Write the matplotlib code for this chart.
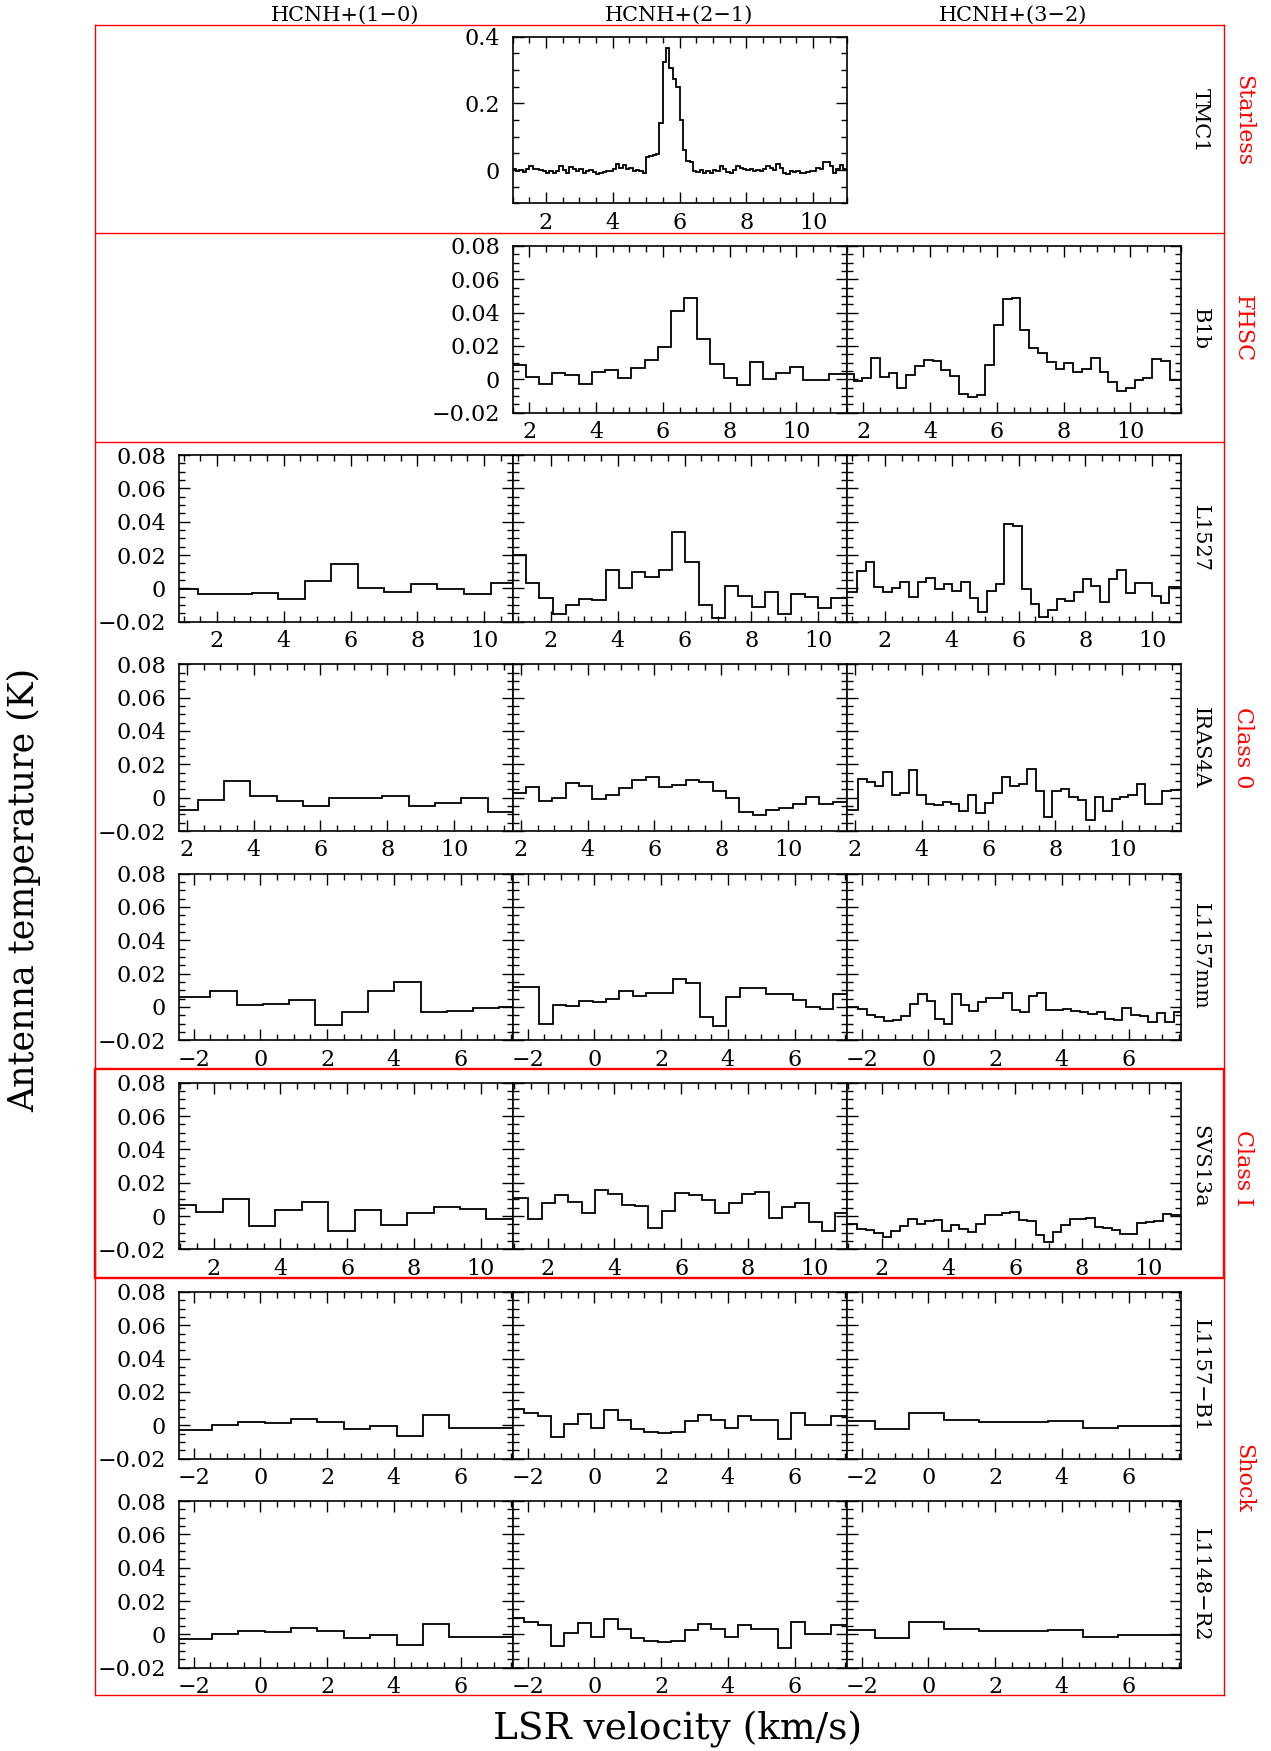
import matplotlib
matplotlib.use('Agg')
import matplotlib.pyplot as plt
from matplotlib.ticker import MultipleLocator, FuncFormatter
import numpy as np

plt.rcParams['font.family'] = ['DejaVu Serif']

# ---- data : (velocity of first channel, channel width, antenna temperatures) ----
line_names = ['HCNH+(1\u22120)', 'HCNH+(2\u22121)', 'HCNH+(3\u22122)']
sources = ['TMC1', 'B1b', 'L1527', 'IRAS4A', 'L1157mm', 'SVS13a',
           'L1157\u2212B1', 'L1148\u2212R2']
groups = ['Starless', 'FHSC', 'Class 0', 'Class I', 'Shock']
vel_ranges = [(1.0, 11.0), (1.5, 11.5), (0.85, 10.85), (1.75, 11.75),
              (-2.45, 7.55), (0.95, 10.95), (-2.45, 7.55), (-2.45, 7.55)]

tmc1_21 = (1.05, 0.1, [
    0.004, -0.003, 0.0, -0.006, 0.004, 0.012, 0.004, 0.002, 0.0, -0.002,
    -0.008, -0.002, -0.008, -0.002, 0.012, 0.0, -0.008, 0.009, 0.002, -0.003,
    0.002, -0.008, -0.002, 0.0, -0.006, -0.013, -0.008, -0.006, -0.003, -0.002,
    0.002, 0.017, 0.007, 0.015, 0.004, 0.007, -0.003, 0.0, -0.004, -0.008,
    0.040, 0.042, 0.044, 0.047, 0.141, 0.325, 0.367, 0.305, 0.274, 0.249,
    0.151, 0.059, 0.027, 0.025, -0.003,
    -0.005, 0.0, -0.008, -0.002, -0.008, 0.0, -0.003, 0.012, 0.002, -0.006,
    -0.008, 0.0, 0.012, 0.007, 0.004, -0.001, 0.002, -0.002, 0.0, -0.003,
    0.002, 0.012, 0.007, 0.0, 0.017, 0.007, -0.008, -0.013, -0.003, -0.006,
    -0.003, -0.008, -0.010, -0.006, -0.003, -0.003, 0.007, 0.002, 0.025, 0.024,
    0.012, -0.010, 0.002, 0.014, 0.004])

b1b_21 = (1.70, 0.395, [
    0.0088, 0.0016, -0.003, 0.0035, 0.0024, -0.003, 0.0045, 0.0053, 0.0006,
    0.0065, 0.0116, 0.0196, 0.0412, 0.0488, 0.024, 0.009, 0.0006, -0.0035,
    0.0106, 0.0004, 0.0037, 0.0076, -0.0006, -0.0002, 0.0033])
b1b_32 = (1.58, 0.263, [
    0.0033, -0.001, 0.0006, 0.0127, 0.0016, 0.0035, -0.0055, 0.0024, 0.0078,
    0.0118, 0.011, 0.0055, 0.0022, -0.0088, -0.0104, -0.0092, 0.0086, 0.0324,
    0.0484, 0.049, 0.0298, 0.019, 0.0155, 0.0102, 0.0061, 0.0098, 0.0041,
    0.0059, 0.0125, 0.0043, -0.0016, -0.0071, -0.0055, -0.0006, 0.0006,
    0.0122, 0.0112, -0.0004])

l1527_10 = (1.05, 0.795, [
    -0.0004, -0.0034, -0.0032, -0.0028, -0.0066, 0.0046, 0.0144, 0.0004,
    -0.002, 0.0024, -0.0004, -0.0032, 0.0034])
l1527_21 = (1.06, 0.397, [
    0.02, 0.0034, -0.006, -0.0156, -0.01, -0.0064, -0.0072, 0.0108, 0.0,
    0.0096, 0.0066, 0.0108, 0.034, 0.0156, -0.01, -0.018, 0.0016, -0.0046,
    -0.0114, -0.0022, -0.0156, -0.0034, -0.0054, -0.0116, -0.0056])
l1527_32 = (1.03, 0.26, [
    -0.002, 0.0104, 0.0156, 0.001, -0.0024, 0.0004, 0.0036, -0.0054, 0.0036,
    0.006, -0.0006, 0.0026, -0.0014, 0.004, -0.006, -0.014, -0.0016, 0.0028,
    0.0384, 0.0374, -0.0004, -0.0094, -0.0174, -0.0128, -0.0062, -0.0074,
    -0.0022, 0.0054, 0.0012, -0.008, 0.0054, 0.0108, -0.0026, 0.003, 0.003,
    -0.0044, -0.009, 0.0008])

iras4a_10 = (1.925, 0.79, [
    -0.0076, -0.0016, 0.01, 0.0008, -0.002, -0.005, -0.0002, 0.0, 0.0008,
    -0.005, -0.0034, 0.0, -0.0084])
iras4a_21 = (1.94, 0.4, [
    0.0028, 0.0062, -0.0018, 0.0, 0.009, 0.007, -0.0006, 0.0016, 0.0058,
    0.0104, 0.0126, 0.0062, 0.0078, 0.0108, 0.0092, 0.0042, 0.0, -0.0086,
    -0.0106, -0.0072, -0.006, -0.004, 0.0006, -0.004, -0.0028])
iras4a_32 = (1.97, 0.253, [
    -0.0076, 0.0114, 0.0094, 0.007, 0.0156, 0.0014, 0.0028, 0.0164, 0.0014,
    -0.0036, -0.0042, -0.0026, -0.004, -0.0082, 0.0014, -0.0092, -0.003,
    0.0028, 0.0122, 0.0068, 0.0084, 0.0174, 0.0042, -0.0114, 0.004, 0.0054,
    0.0004, -0.0016, -0.0136, 0.0006, -0.0082, -0.0006, 0.0004, 0.0014, 0.008,
    -0.0036, -0.004, 0.0038, 0.0044])

l1157mm_10 = (-2.68, 0.787, [
    0.0058, 0.0058, 0.0098, 0.0014, 0.0016, 0.0044, -0.0106, -0.0032, 0.0098,
    0.0148, -0.003, -0.0026, -0.0004, 0.0002])
l1157mm_21 = (-2.25, 0.4, [
    0.0118, 0.0118, -0.01, 0.001, 0.0004, 0.0034, 0.003, 0.005, 0.0098,
    0.0064, 0.0086, 0.0086, 0.017, 0.0144, -0.006, -0.0114, 0.006, 0.0114,
    0.0116, 0.008, 0.0076, 0.004, 0.0, -0.001, 0.008])
l1157mm_32 = (-2.22, 0.255, [
    0.0, -0.001, -0.005, -0.006, -0.0082, -0.008, -0.0054, 0.0018, 0.0076,
    0.0034, -0.0074, -0.0104, 0.008, 0.0014, -0.0024, 0.003, 0.0054, 0.0056,
    0.0084, -0.0018, -0.003, 0.0066, 0.0084, -0.002, -0.002, -0.001, -0.0024,
    -0.003, -0.004, -0.003, -0.007, -0.0076, -0.0004, -0.005, -0.0054,
    -0.009, -0.0034, -0.0092, -0.003])

svs13a_10 = (1.085, 0.79, [
    0.0064, 0.0024, 0.0104, -0.006, 0.0036, 0.0084, -0.0092, 0.0036, -0.0052,
    0.002, 0.0054, 0.0044, -0.002])
svs13a_21 = (1.22, 0.4, [
    0.0108, -0.0016, 0.008, 0.0128, 0.0084, 0.002, 0.0158, 0.013, 0.0064,
    0.0058, -0.007, 0.003, 0.014, 0.0124, 0.0094, 0.002, 0.0078, 0.0134,
    0.0144, -0.001, 0.0052, 0.008, -0.0036, -0.0092, 0.002])
svs13a_32 = (1.15, 0.254, [
    -0.0046, -0.0076, -0.0086, -0.01, -0.0124, -0.0092, -0.0058, -0.002,
    -0.0046, -0.003, -0.0026, -0.0092, -0.0056, -0.0076, -0.0096, -0.005,
    0.0004, 0.0004, 0.0016, 0.0022, -0.0022, -0.003, -0.0116, -0.0156,
    -0.0096, -0.0052, -0.002, -0.0016, -0.001, -0.0066, -0.007, -0.0086,
    -0.0106, -0.011, -0.004, -0.0036, -0.0032, 0.0014, 0.0004])

l1157b1_10 = (-1.845, 0.79, [
    -0.003, 0.0004, 0.002, 0.0016, 0.004, 0.0018, -0.002, -0.0004, -0.0064,
    0.006, -0.0014, -0.0014, -0.0014])
l1157b1_21 = (-2.3, 0.4, [
    0.01, 0.0076, 0.0056, -0.007, 0.001, 0.007, -0.0014, 0.009, 0.003, -0.002,
    -0.004, -0.0046, -0.004, 0.0026, 0.0064, 0.0034, -0.0016, 0.0058, 0.0034,
    0.0034, -0.008, 0.0074, 0.0, 0.0, 0.0054])
l1157b1_32 = (-2.13, 1.04, [
    0.0024, -0.002, 0.0074, 0.0034, 0.002, 0.002, 0.0024, -0.0016, -0.0006,
    -0.0004])

l1148r2_10 = l1157b1_10
l1148r2_21 = l1157b1_21
l1148r2_32 = l1157b1_32

spectra = [
    [None, tmc1_21, None],
    [None, b1b_21, b1b_32],
    [l1527_10, l1527_21, l1527_32],
    [iras4a_10, iras4a_21, iras4a_32],
    [l1157mm_10, l1157mm_21, l1157mm_32],
    [svs13a_10, svs13a_21, svs13a_32],
    [l1157b1_10, l1157b1_21, l1157b1_32],
    [l1148r2_10, l1148r2_21, l1148r2_32],
]

# ---- layout (pixels of the 1271 x 1751 image) ----
W, H = 1271, 1751
col_left = [178.5, 512.5, 846.5]
col_w = 334
row_top0, row_pitch, row_h = 36.7, 209.2, 166.7


def fx(px):
    return px / W


def fy(py):
    return 1 - py / H


def yfmt(v, pos, nd):
    if abs(v) < 1e-9:
        return '0'
    return ('%.*f' % (nd, v)).replace('-', '\u2212')


fig = plt.figure(figsize=(W / 100, H / 100), dpi=100)

for r, row in enumerate(spectra):
    top = row_top0 + r * row_pitch
    for c, spec in enumerate(row):
        if spec is None:
            continue
        ax = fig.add_axes([fx(col_left[c]), fy(top + row_h), col_w / W, row_h / H])
        v0, dv, T = spec
        T = np.asarray(T)
        lo, hi = vel_ranges[r]
        edges = v0 - dv / 2 + dv * np.arange(len(T) + 1)
        edges[0] = min(edges[0], lo)
        edges[-1] = max(edges[-1], hi)
        ax.stairs(T, edges, baseline=None, color='black', lw=1.3)
        ax.set_xlim(lo, hi)
        ax.xaxis.set_major_locator(MultipleLocator(2))
        ax.xaxis.set_minor_locator(MultipleLocator(0.5))
        if r == 0:
            ax.set_ylim(-0.1, 0.4)
            ax.yaxis.set_major_locator(MultipleLocator(0.2))
            ax.yaxis.set_minor_locator(MultipleLocator(0.05))
            ax.yaxis.set_major_formatter(FuncFormatter(lambda v, p: yfmt(v, p, 1)))
        else:
            ax.set_ylim(-0.02, 0.08)
            ax.yaxis.set_major_locator(MultipleLocator(0.02))
            ax.yaxis.set_minor_locator(MultipleLocator(0.005))
            ax.yaxis.set_major_formatter(FuncFormatter(lambda v, p: yfmt(v, p, 2)))
        show_y = (c == 0) or (r < 2 and c == 1)
        ax.tick_params(which='both', direction='in', top=True, right=True,
                       width=1.0, labelsize=16, labelleft=show_y)
        ax.tick_params(which='major', length=8)
        ax.tick_params(which='minor', length=4)
        ax.tick_params(axis='x', which='major', pad=6)
        ax.tick_params(axis='y', which='major', pad=9)
        for s in ax.spines.values():
            s.set_linewidth(1.2)
    fig.text(fx(1200), fy(top + row_h / 2), sources[r], rotation=-90,
             ha='center', va='center', fontsize=15)

for c in range(3):
    fig.text(fx(col_left[c] + col_w / 2), fy(15), line_names[c],
             ha='center', va='center', fontsize=15)

# red frame grouping the sources
frame_l, frame_r = 95, 1224
red = '#ff0000'
for yy in [24.6, 233.4, 442.2, 1695]:
    fig.add_artist(plt.Line2D([fx(frame_l), fx(frame_r)], [fy(yy), fy(yy)],
                              color=red, lw=1.0, transform=fig.transFigure))
for xx in [frame_l, frame_r]:
    fig.add_artist(plt.Line2D([fx(xx), fx(xx)], [fy(24.6), fy(1695)],
                              color=red, lw=1.0, transform=fig.transFigure))
box = plt.Rectangle((fx(frame_l), fy(1277.5)), fx(frame_r - frame_l),
                    (1277.5 - 1068.7) / H, fill=False, edgecolor=red, lw=1.7,
                    transform=fig.transFigure)
fig.add_artist(box)

group_y = [120.6, 329, 748, 1168, 1478]
for g, gy in zip(groups, group_y):
    fig.text(fx(1243), fy(gy), g, rotation=-90, color=red,
             ha='center', va='center', fontsize=16)

fig.text(fx(24.6), fy(890), 'Antenna temperature (K)', rotation=90,
         ha='center', va='center', fontsize=25)
fig.text(fx(678), fy(1729), 'LSR velocity (km/s)', ha='center', va='center',
         fontsize=27)

fig.savefig('out.png', dpi=100)
